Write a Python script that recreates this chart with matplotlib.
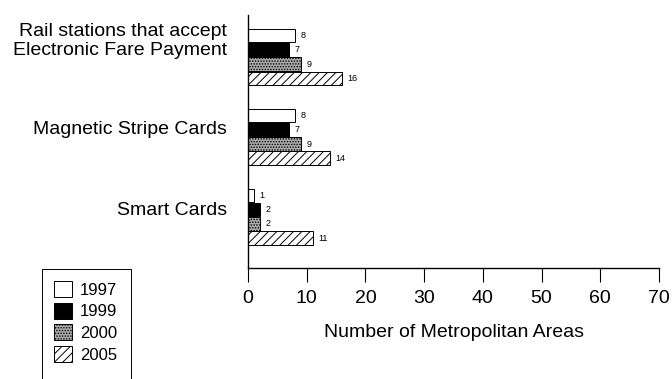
import numpy as np
import matplotlib
matplotlib.use("Agg")
from matplotlib import pyplot as plt
from matplotlib.patches import Rectangle

# chart data
categories = ["Rail stations that accept\nElectronic Fare Payment", "Magnetic Stripe Cards", "Smart Cards"]
years = ["1997", "1999", "2000", "2005"]
v1997 = [8, 8, 1]
v1999 = [7, 7, 2]
v2000 = [9, 9, 2]
v2005 = [16, 14, 11]
x_ticks = [0, 10, 20, 30, 40, 50, 60, 70]

plt.rcParams['font.family'] = ['Liberation Sans', 'DejaVu Sans']
plt.rcParams['hatch.linewidth'] = 0.7

fig = plt.figure(figsize=(6.72, 3.79), dpi=100)
ax = fig.add_axes([248 / 672, 1 - 268 / 379, (659 - 248) / 672, (268 - 15) / 379])

series = [v1997, v1999, v2000, v2005]
styles = [
	dict(facecolor="white", hatch=None),
	dict(facecolor="black", hatch=None),
	dict(facecolor="#ababab", hatch="......"),
	dict(facecolor="white", hatch="////"),
]
bar_h = 0.178
y = np.arange(len(categories))
for i, (vals, st) in enumerate(zip(series, styles)):
	pos = y + (i - 1.5) * bar_h
	bars = ax.barh(pos, vals, height=bar_h * 0.95, facecolor=st["facecolor"], hatch=st["hatch"],
		edgecolor="black", linewidth=0.7, label=years[i])
	for b, v in zip(bars, vals):
		ax.annotate(str(v), (b.get_width(), b.get_y() + b.get_height() / 2), xytext=(4, 0),
			textcoords="offset points", va="center", ha="left", fontsize=6.5)

ax.set_ylim(2.64, -0.525)
ax.set_xlim(0, 70)
ax.set_xticks(x_ticks)
ax.tick_params(axis="x", direction="out", length=10, width=0.8, pad=6, labelsize=14)
ax.set_yticks([])
ax.spines["top"].set_visible(False)
ax.spines["right"].set_visible(False)
ax.spines["left"].set_linewidth(1.0)
ax.spines["bottom"].set_linewidth(1.0)
ax.set_xlabel("Number of Metropolitan Areas", fontsize=14, labelpad=12)

# category labels sit a little above their bar groups
label_offsets = [-0.2, -0.09, -0.075]
for c, yy, off in zip(categories, y, label_offsets):
	ax.text(-0.051, yy + off, c, transform=ax.get_yaxis_transform(), ha="right", va="center",
		fontsize=14, linespacing=1.13)

handles, labels = ax.get_legend_handles_labels()
leg = fig.legend(handles, labels, loc="upper left", bbox_to_anchor=(54 / 672, 1 - 281 / 379),
	frameon=False, fontsize=12, handlelength=1.1, handleheight=1.1, handletextpad=0.45,
	labelspacing=0.3, borderpad=0, borderaxespad=0)
# legend box runs off the bottom edge like in the scan
fig.patches.append(Rectangle((42 / 672, -0.05), (131 - 42) / 672, 0.05 + 1 - 269 / 379,
	transform=fig.transFigure, fill=False, edgecolor="black", linewidth=0.7))

fig.savefig("out.png", dpi=100)
